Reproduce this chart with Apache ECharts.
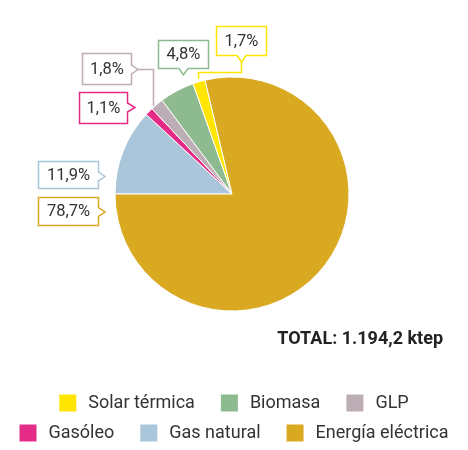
<!DOCTYPE html>
<html>
<head>
<meta charset="utf-8">
<script src="https://cdn.jsdelivr.net/npm/echarts@6/dist/echarts.min.js"></script>
<style>
html,body{margin:0;padding:0;background:#fff;}
#chart{width:468px;height:450px;}
</style>
</head>
<body>
<div id="chart"></div>
<script>
// ---- data ----
const categories = ['Gas natural', 'Gasóleo', 'GLP', 'Biomasa', 'Solar térmica', 'Energía eléctrica'];
const values = [11.9, 1.1, 1.8, 4.8, 1.7, 78.7];
const colors = ['#AAC6DA', '#E42C86', '#BDADB4', '#8DBB8F', '#FFE500', '#DAA922'];
const legendRow1 = ['Solar térmica', 'Biomasa', 'GLP'];
const legendRow2 = ['Gasóleo', 'Gas natural', 'Energía eléctrica'];
const totalText = 'TOTAL: 1.194,2 ktep';

// ---- callout layout (positions only) ----
const calloutLayout = {
  'Gas natural':       {x0: 38.5, y0: 161.5, x1: 98.5, y1: 188.5, side: 'right', n: 176.5, tip: 105},
  'Energía eléctrica': {x0: 38.5, y0: 197.5, x1: 98.5, y1: 225.5, side: 'right', n: 212,   tip: 105},
  'Gasóleo':           {x0: 79.5, y0: 92.5,  x1: 127.5, y1: 123.5, side: 'right', n: 107.5, tip: 135},
  'GLP':               {x0: 82.5, y0: 53.5,  x1: 131.5, y1: 84.5,  side: 'right', n: 69.5,  tip: 138,
                        line: [[138, 69.5], [153.5, 69.5], [153.5, 106]]},
  'Biomasa':           {x0: 158.5, y0: 40.5, x1: 208.5, y1: 68.5,  side: 'bottom', n: 183.5, tip: 75},
  'Solar térmica':     {x0: 216.5, y0: 26.5, x1: 266.5, y1: 55.5,  side: 'bottom', n: 241.5, tip: 62,
                        line: [[241.5, 62], [241.5, 72.5], [198.5, 72.5], [198.5, 79]]}
};

function fmt(v) { return v.toFixed(1).replace('.', ',') + '%'; }

const graphics = [];
categories.forEach(function (name, i) {
  const L = calloutLayout[name];
  const c = colors[i];
  let pts;
  if (L.side === 'right') {
    pts = [[L.x0, L.y0], [L.x1, L.y0], [L.x1, L.n - 4.5], [L.tip, L.n], [L.x1, L.n + 4.5], [L.x1, L.y1], [L.x0, L.y1]];
  } else {
    pts = [[L.x0, L.y0], [L.x1, L.y0], [L.x1, L.y1], [L.n + 4.5, L.y1], [L.n, L.tip], [L.n - 4.5, L.y1], [L.x0, L.y1]];
  }
  if (L.line) {
    graphics.push({type: 'polyline', shape: {points: L.line}, style: {stroke: c, lineWidth: 1.5, fill: null}, z: 10});
  }
  graphics.push({type: 'polygon', shape: {points: pts}, style: {fill: '#fff', stroke: c, lineWidth: 1.5}, z: 11});
  graphics.push({
    type: 'text', z: 12,
    x: (L.x0 + L.x1) / 2, y: (L.y0 + L.y1) / 2 + 0.5,
    style: {text: fmt(values[i]), fill: '#333', font: '400 16.5px Roboto, sans-serif', align: 'center', verticalAlign: 'middle'}
  });
});
graphics.push({
  type: 'text', z: 12, right: 25, top: 330,
  style: {text: totalText, fill: '#222', font: 'bold 18px Roboto, sans-serif'}
});

const chart = echarts.init(document.getElementById('chart'), null, {renderer: 'canvas'});
const legendCommon = {
  left: 'center', icon: 'rect', itemWidth: 17, itemHeight: 17, itemGap: 26,
  textStyle: {fontSize: 18, color: '#333', fontFamily: 'Roboto', fontWeight: 400, padding: [0, 0, 0, 7]},
  itemStyle: {borderWidth: 0},
  selectedMode: false
};
chart.setOption({
  animation: false,
  color: colors,
  legend: [
    Object.assign({}, legendCommon, {top: 389, data: legendRow1}),
    Object.assign({}, legendCommon, {top: 419, data: legendRow2})
  ],
  series: [{
    type: 'pie',
    center: [232, 194],
    radius: 117,
    startAngle: 180,
    clockwise: true,
    label: {show: false},
    labelLine: {show: false},
    emphasis: {disabled: true},
    itemStyle: {borderColor: '#fff', borderWidth: 1},
    data: categories.map(function (n, i) { return {name: n, value: values[i]}; })
  }],
  graphic: graphics
});
</script>
</body>
</html>
